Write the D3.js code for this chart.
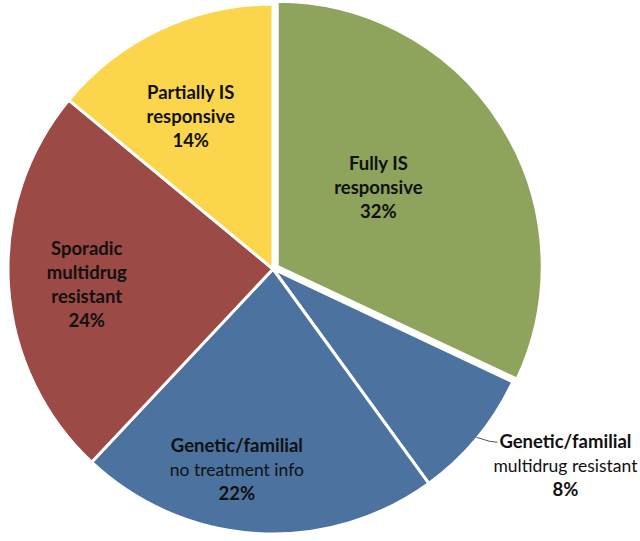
<!DOCTYPE html>
<html><head><meta charset="utf-8">
<script src="https://cdn.jsdelivr.net/npm/d3@7"></script>
<style>html,body{margin:0;padding:0;background:#fff;}svg{display:block;}</style>
</head><body>
<svg id="chart" width="640" height="541"></svg>
<script>
const categories = ["Fully IS responsive", "Genetic/familial multidrug resistant", "Genetic/familial no treatment info", "Sporadic multidrug resistant", "Partially IS responsive"];
const values = [32, 8, 22, 24, 14];
const boldLines = [["Fully IS", "responsive"], ["Genetic/familial"], ["Genetic/familial"], ["Sporadic", "multidrug", "resistant"], ["Partially IS", "responsive"]];
const normalLines = [[], ["multidrug resistant"], ["no treatment info"], [], []];
const percentLabels = ["32%", "8%", "22%", "24%", "14%"];
const colors = ["#8ea35b", "#4c729f", "#4c729f", "#9b4a45", "#fbd64c"];

const svg = d3.select("#chart");
const cx = 273, cy = 269, R = 265;
const g = svg.append("g").attr("transform", `translate(${cx},${cy})`);
const pie = d3.pie().sort(null).value(d => d)(values);
const arc = d3.arc().innerRadius(0).outerRadius(R);
const explode = [5, 0, 0, 0, 0];

g.selectAll("path.slice").data(pie).enter().append("path")
  .attr("class", "slice")
  .attr("d", arc)
  .attr("fill", (d, i) => colors[i])
  .attr("stroke", "#fff").attr("stroke-width", 3).attr("stroke-linejoin", "round")
  .attr("transform", (d, i) => {
    const a = (d.startAngle + d.endAngle) / 2;
    return `translate(${explode[i] * Math.sin(a)},${-explode[i] * Math.cos(a)})`;
  });

// label layout: [radius, angle offset (deg)] for inside labels
const layout = [[133, -5.2], null, [204, 6.6], [187, -1.4], [173, -3.2]];
const font = "Lato, 'Open Sans', sans-serif";
const lineH = 24;

pie.forEach((d, i) => {
  let x, y;
  const mid = (d.startAngle + d.endAngle) / 2;
  if (layout[i]) {
    const a = mid + layout[i][1] * Math.PI / 180;
    x = layout[i][0] * Math.sin(a);
    y = -layout[i][0] * Math.cos(a);
  } else {
    // outside label with leader line
    const p0 = [ (R - 1) * Math.sin(mid), -(R - 1) * Math.cos(mid) ];
    const p1 = [p0[0] + 13, p0[1] + 4];
    const p2 = [p1[0] + 8, p1[1] + 1];
    g.append("path").attr("d", d3.line()([p0, p1, p2]))
      .attr("fill", "none").attr("stroke", "#555").attr("stroke-width", 1);
    x = p2[0] + 68; y = 466 - cy;
  }
  const lines = [];
  boldLines[i].forEach(t => lines.push({t, w: "bold", s: 18.5}));
  normalLines[i].forEach(t => lines.push({t, w: "normal", s: 17.5}));
  lines.push({t: percentLabels[i], w: "bold", s: 18.5});
  const n = lines.length;
  const t = g.append("text").attr("text-anchor", "middle")
    .attr("font-family", font).attr("fill", "#111");
  lines.forEach((l, k) => {
    t.append("tspan").attr("x", x)
      .attr("y", y + (k - (n - 1) / 2) * lineH + 6)
      .attr("font-weight", l.w).attr("font-size", l.s)
      .text(l.t);
  });
});
</script>
</body></html>
